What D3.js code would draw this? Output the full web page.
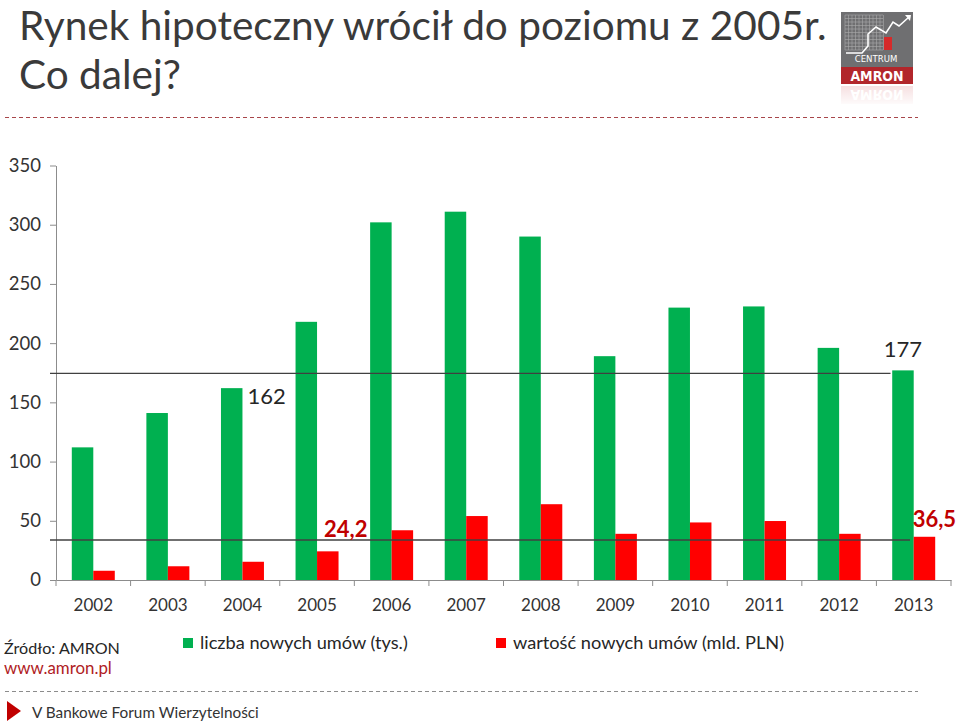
<!DOCTYPE html>
<html><head><meta charset="utf-8">
<script src="https://cdn.jsdelivr.net/npm/d3@7"></script>
<style>
html,body{margin:0;padding:0;background:#fff;}
svg{display:block;font-family:Lato,"Open Sans",sans-serif;}
</style></head>
<body>
<svg id="c" width="960" height="723"></svg>
<script>
// ---- data ----
const years = ["2002","2003","2004","2005","2006","2007","2008","2009","2010","2011","2012","2013"];
const contracts = [112, 141, 162, 218, 302, 311, 290, 189, 230, 231, 196, 177]; // liczba nowych umów (tys.)
const values = [7.8, 11.6, 15.4, 24.2, 42, 54, 64, 39, 48.6, 49.8, 39, 36.5];   // wartość nowych umów (mld. PLN)
const yTicks = [0, 50, 100, 150, 200, 250, 300, 350];
const seriesNames = ["liczba nowych umów (tys.)", "wartość nowych umów (mld. PLN)"];
const refLevels = [174.5, 33.8];
const annotations = [
  {series: 0, year: "2004", text: "162"},
  {series: 0, year: "2013", text: "177"},
  {series: 1, year: "2005", text: "24,2"},
  {series: 1, year: "2013", text: "36,5"}
];
const titleLines = ["Rynek hipoteczny wrócił do poziomu z 2005r.", "Co dalej?"];

// ---- setup ----
const svg = d3.select("#c");
const colors = ["#00B050", "#FF0000"];
const series = [contracts, values];

function fitWidth(sel, w) {
  const cur = sel.node().getComputedTextLength();
  const fs = parseFloat(sel.attr("font-size"));
  sel.attr("font-size", (fs * w / cur).toFixed(2));
}

// title
const t1 = svg.append("text").attr("x", 19).attr("y", 40).attr("font-size", 38)
  .attr("fill", "#3a3a3a").text(titleLines[0]);
fitWidth(t1, 808);
const t2 = svg.append("text").attr("x", 19).attr("y", 89).attr("font-size", t1.attr("font-size"))
  .attr("fill", "#3a3a3a").text(titleLines[1]);

// top dashed line
svg.append("line").attr("x1", 5).attr("x2", 918).attr("y1", 117.5).attr("y2", 117.5)
  .attr("stroke", "#a8464a").attr("stroke-width", 1.2).attr("stroke-dasharray", "4,3");

// logo
const logo = svg.append("g");
logo.append("rect").attr("x", 841).attr("y", 12).attr("width", 72).attr("height", 55).attr("fill", "#6f6f71");
const gridG = logo.append("g").attr("stroke", "#a9a9ab").attr("stroke-width", 0.6);
d3.range(845, 884, 3.5).forEach(x => gridG.append("line").attr("x1", x).attr("x2", x).attr("y1", 15).attr("y2", 50));
d3.range(15, 51, 3.5).forEach(y => gridG.append("line").attr("x1", 845).attr("x2", 883).attr("y1", y).attr("y2", y));
logo.append("rect").attr("x", 884).attr("y", 37).attr("width", 8).attr("height", 13).attr("fill", "#d62a2a");
logo.append("path").attr("d", "M846,53 L862,53 L868,46 L868,34 L876,27 L886,33 L893,22 L899,26 L909,17")
  .attr("fill", "none").attr("stroke", "#fff").attr("stroke-width", 1.6);
logo.append("path").attr("d", "M905,15 L911,15 L910,21 Z").attr("fill", "#fff");
logo.append("text").attr("x", 876).attr("y", 62).attr("text-anchor", "middle").attr("font-size", 9.5)
  .attr("fill", "#fff").attr("font-family", "'Liberation Sans Narrow','DejaVu Sans Condensed',sans-serif").text("CENTRUM");
logo.append("rect").attr("x", 841).attr("y", 67).attr("width", 72).attr("height", 17).attr("fill", "#b2262b");
logo.append("text").attr("x", 877).attr("y", 80.5).attr("text-anchor", "middle").attr("font-size", 14)
  .attr("font-weight", "bold").attr("fill", "#fff").attr("font-family", "'DejaVu Sans Condensed',sans-serif").text("AMRON");
const defs = svg.append("defs");
const grad = defs.append("linearGradient").attr("id", "fade").attr("x1", 0).attr("x2", 0).attr("y1", 0).attr("y2", 1);
grad.append("stop").attr("offset", "0").attr("stop-color", "#fff").attr("stop-opacity", 0.45);
grad.append("stop").attr("offset", "1").attr("stop-color", "#fff").attr("stop-opacity", 1);
const refl = logo.append("g").attr("transform", "translate(0,170) scale(1,-1)");
refl.append("rect").attr("x", 841).attr("y", 66).attr("width", 72).attr("height", 18).attr("fill", "#eec4c6");
refl.append("text").attr("x", 877).attr("y", 80.5).attr("text-anchor", "middle").attr("font-size", 14)
  .attr("font-weight", "bold").attr("fill", "#fff").attr("font-family", "'DejaVu Sans Condensed',sans-serif").text("AMRON");
logo.append("rect").attr("x", 840).attr("y", 85).attr("width", 74).attr("height", 22).attr("fill", "url(#fade)");

// scales
const x0 = d3.scaleBand().domain(years).range([56, 951]).padding(0);
const x1 = d3.scaleBand().domain([0, 1]).range([0, x0.bandwidth()]).paddingInner(0).paddingOuter(0.735);
const y = d3.scaleLinear().domain([0, 350]).range([580, 165.5]);

// y axis
const ya = svg.append("g").attr("transform", "translate(56,0)")
  .call(d3.axisLeft(y).tickValues(yTicks).tickSize(6).tickSizeOuter(0).tickPadding(9));
ya.select(".domain").attr("stroke", "#8c8c8c");
ya.selectAll(".tick line").attr("stroke", "#8c8c8c");
ya.selectAll("text").attr("font-size", 18.5).attr("fill", "#333").attr("font-family", "Lato,sans-serif");

// bars
years.forEach((yr, i) => {
  series.forEach((s, k) => {
    svg.append("rect")
      .attr("x", x0(yr) + x1(k)).attr("width", x1.bandwidth())
      .attr("y", y(s[i])).attr("height", y(0) - y(s[i]))
      .attr("fill", colors[k]);
  });
});

// x axis
const xa = svg.append("g").attr("transform", "translate(0,580)")
  .call(d3.axisBottom(x0).tickSize(0).tickSizeOuter(0).tickPadding(19));
xa.select(".domain").attr("stroke", "#8c8c8c");
xa.selectAll("text").attr("font-size", 17).attr("fill", "#333").attr("font-family", "Lato,sans-serif");
const bounds = years.map(d => x0(d)).concat([x0.range()[1]]);
xa.selectAll(".btick").data(bounds).enter().append("line").attr("class", "btick")
  .attr("x1", d => d).attr("x2", d => d).attr("y1", 0).attr("y2", 6).attr("stroke", "#8c8c8c");

// reference lines
const refEnds = [890.5, 910];
svg.selectAll(".ref").data(refLevels).enter().append("line").attr("class", "ref")
  .attr("x1", 50).attr("x2", (d, i) => refEnds[i])
  .attr("y1", d => y(d)).attr("y2", d => y(d))
  .attr("stroke", "#404040").attr("stroke-width", 1.4);

// annotations
annotations.forEach(a => {
  const i = years.indexOf(a.year);
  const v = series[a.series][i];
  const bx = x0(a.year) + x1(a.series);
  const bw = x1.bandwidth();
  const t = svg.append("text").text(a.text);
  if (a.series === 0) {
    t.attr("font-size", 22).attr("fill", "#262626");
    if (a.year === "2013") {
      t.attr("x", bx + bw / 2).attr("y", y(v) - 13).attr("text-anchor", "middle");
    } else {
      t.attr("x", bx + bw + 5).attr("y", y(v) + 16);
    }
  } else {
    t.attr("font-size", 22).attr("font-weight", "bold").attr("fill", "#c00000");
    if (a.year === "2013") {
      t.attr("x", bx - 1).attr("y", y(v) - 10);
    } else {
      t.attr("x", bx + 7).attr("y", y(v) - 14);
    }
  }
});

// legend
const legX = [183, 496];
const legW = [208, 271];
seriesNames.forEach((n, k) => {
  svg.append("rect").attr("x", legX[k]).attr("y", 638).attr("width", 10).attr("height", 10).attr("fill", colors[k]);
  const lt = svg.append("text").attr("x", legX[k] + 17).attr("y", 649).attr("font-size", 18)
    .attr("fill", "#262626").text(n);
  fitWidth(lt, legW[k]);
});

// source
const s1 = svg.append("text").attr("x", 4).attr("y", 654).attr("font-size", 17).attr("fill", "#262626").text("Źródło: AMRON");
fitWidth(s1, 116);
const s2 = svg.append("text").attr("x", 4).attr("y", 674).attr("font-size", 17).attr("fill", "#b01c24").text("www.amron.pl");
fitWidth(s2, 108);

// bottom dashed line
svg.append("line").attr("x1", 5).attr("x2", 918).attr("y1", 691.5).attr("y2", 691.5)
  .attr("stroke", "#8c8c8c").attr("stroke-width", 1).attr("stroke-dasharray", "4,3");

// footer
svg.append("path").attr("d", "M7,701 L21,711 L7,721 Z").attr("fill", "#c00000");
const f = svg.append("text").attr("x", 32).attr("y", 718).attr("font-size", 15).attr("fill", "#333")
  .text("V Bankowe Forum Wierzytelności");
fitWidth(f, 227);
</script>
</body></html>
